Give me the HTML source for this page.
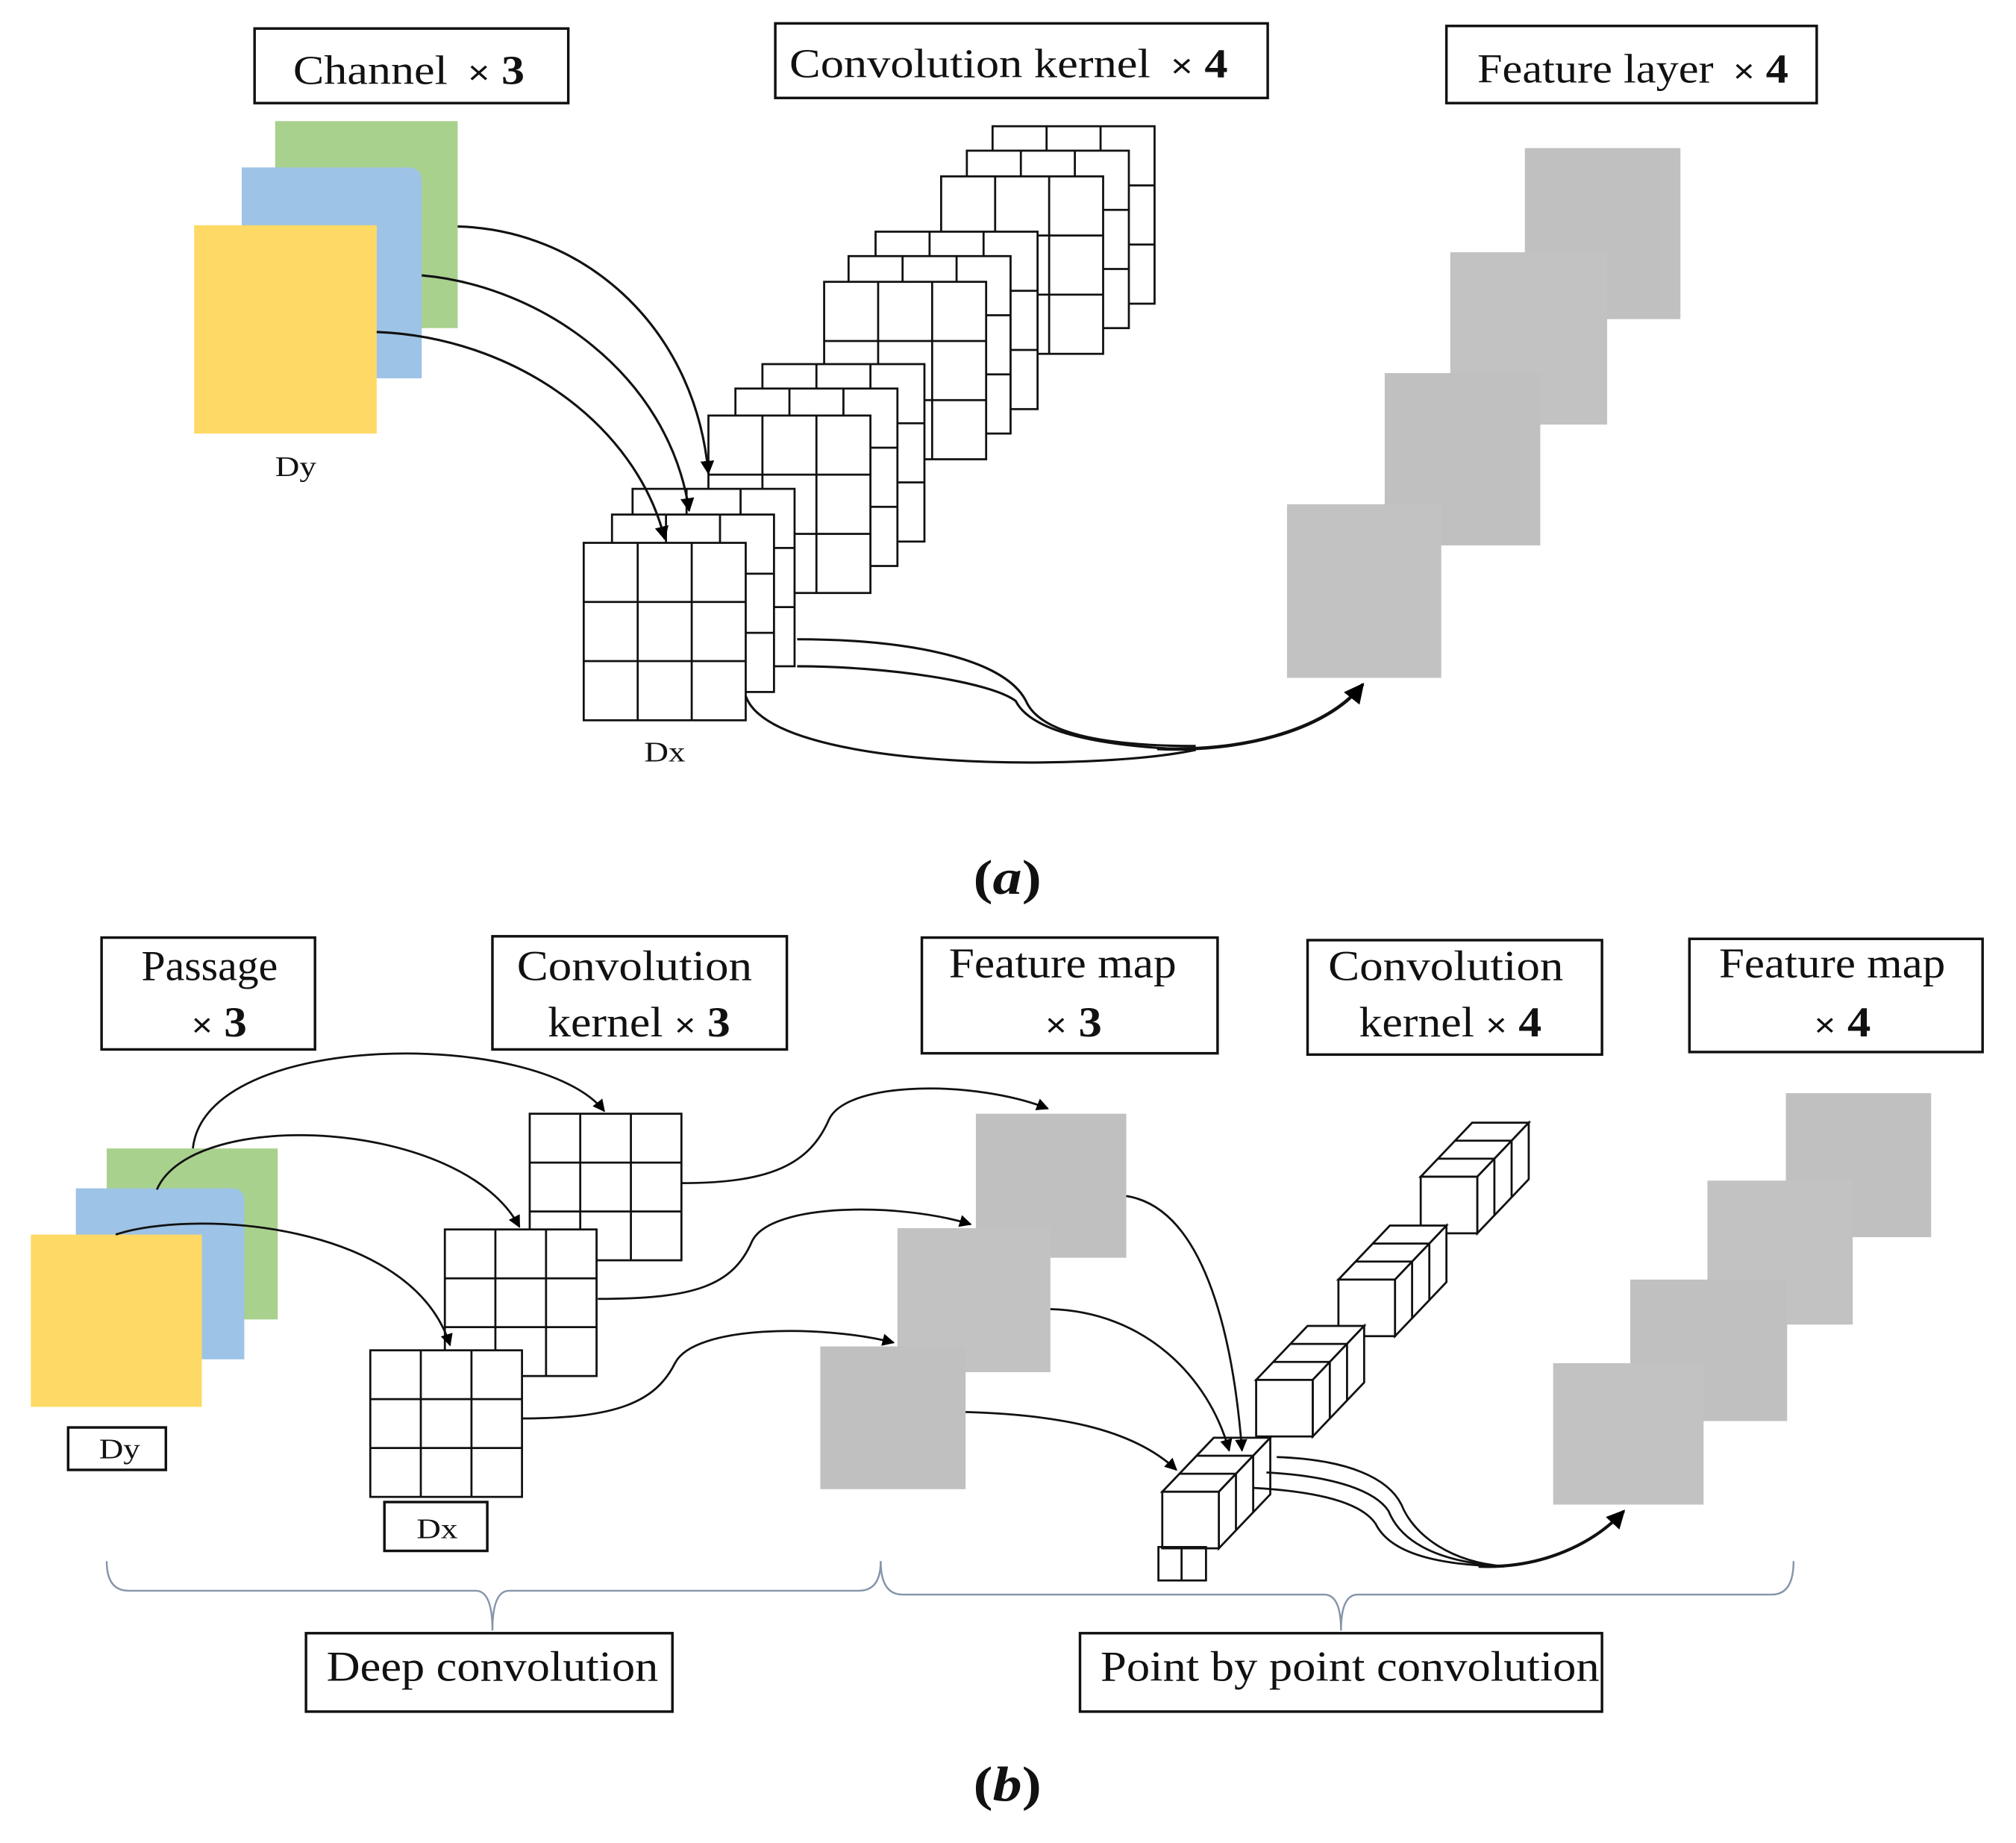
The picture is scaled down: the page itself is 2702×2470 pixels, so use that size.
<!DOCTYPE html>
<html><head><meta charset="utf-8"><style>
html,body{margin:0;padding:0;background:#fff;}
svg{display:block;}
text{font-family:"Liberation Serif",serif;fill:#111;}
</style></head><body>
<svg width="2702" height="2470" viewBox="0 0 1568 1433" xmlns="http://www.w3.org/2000/svg">
<defs>
<marker id="ah" viewBox="0 0 10 10" refX="9" refY="5" markerWidth="6" markerHeight="6" orient="auto-start-reverse"><path d="M0,0 L10,5 L0,10 z" fill="#000"/></marker>
<g id="ga"><rect x="0" y="0" width="126" height="138" fill="#fff" stroke="#111" stroke-width="1.6"/><path d="M42,0V138M84,0V138M0,46H126M0,92H126" stroke="#111" stroke-width="1.6"/></g>
<g id="gb"><rect x="0" y="0" width="118" height="114" fill="#fff" stroke="#111" stroke-width="1.6"/><path d="M39.3,0V114M78.7,0V114M0,38H118M0,76H118" stroke="#111" stroke-width="1.6"/></g>
<g id="cube" fill="#fff" stroke="#111" stroke-width="1.6">
<polygon points="0,0 44,0 84,-42 40,-42"/>
<polygon points="44,0 84,-42 84,2 44,44"/>
<rect x="0" y="0" width="44" height="44"/>
<path d="M13.3,-14H57.3M26.7,-28H70.7M57.3,-14V30M70.7,-28V16" fill="none"/>
</g>
</defs>
<rect width="1568" height="1433" fill="#fff"/>

<!-- (a) labels -->
<rect x="198" y="22" width="244" height="58" fill="none" stroke="#111" stroke-width="2"/>
<text x="228" y="65" font-size="32" textLength="180" lengthAdjust="spacingAndGlyphs">Channel <tspan font-family="Liberation Sans" font-size="26" dx="6">×</tspan><tspan font-weight="bold"> 3</tspan></text>
<rect x="603" y="18" width="383" height="58" fill="none" stroke="#111" stroke-width="2"/>
<text x="614" y="60" font-size="32" textLength="341" lengthAdjust="spacingAndGlyphs">Convolution kernel <tspan font-family="Liberation Sans" font-size="26" dx="6">×</tspan><tspan font-weight="bold"> 4</tspan></text>
<rect x="1125" y="20" width="288" height="60" fill="none" stroke="#111" stroke-width="2"/>
<text x="1149" y="64" font-size="32" textLength="242" lengthAdjust="spacingAndGlyphs">Feature layer <tspan font-family="Liberation Sans" font-size="26" dx="6">×</tspan><tspan font-weight="bold"> 4</tspan></text>

<!-- (a) channels -->
<rect x="214" y="94" width="142" height="161" fill="#a9d18e"/>
<path d="M188,130 H318 Q328,130 328,142 V294 H188 Z" fill="#9dc3e6"/>
<rect x="151" y="175" width="142" height="162" fill="#ffd966"/>
<text x="214" y="370" font-size="22" textLength="32" lengthAdjust="spacingAndGlyphs">Dy</text>

<!-- (a) kernels -->
<use href="#ga" x="772" y="98"/><use href="#ga" x="752" y="117"/><use href="#ga" x="732" y="137"/>
<use href="#ga" x="681" y="180"/><use href="#ga" x="660" y="199"/><use href="#ga" x="641" y="219"/>
<use href="#ga" x="593" y="283"/><use href="#ga" x="572" y="302"/><use href="#ga" x="551" y="323"/>
<use href="#ga" x="492" y="380"/><use href="#ga" x="476" y="400"/><use href="#ga" x="454" y="422"/>
<text x="501" y="592" font-size="22" textLength="32" lengthAdjust="spacingAndGlyphs">Dx</text>

<!-- (a) arrows -->
<g fill="none" stroke="#111" stroke-width="1.8">
<path d="M356,176 C450,178 540,250 551,368" marker-end="url(#ah)"/>
<path d="M328,214 C420,222 520,290 536,397" marker-end="url(#ah)"/>
<path d="M293,258 C400,262 495,330 517,419" marker-end="url(#ah)"/>
<path d="M620,497 C700,497 780,510 798,545 C808,568 850,580 930,580"/>
<path d="M620,518 C690,518 770,530 790,545 C800,565 840,580 930,583"/>
<path d="M580,541 C600,600 850,600 930,583"/>
<path d="M900,582 C960,585 1030,570 1060,532" stroke-width="2.6" marker-end="url(#ah)"/>
</g>

<!-- (a) feature layers -->
<rect x="1186" y="115" width="121" height="133" fill="#c0c0c0"/>
<rect x="1128" y="196" width="122" height="134" fill="#c2c2c2"/>
<rect x="1077" y="290" width="121" height="134" fill="#c0c0c0"/>
<rect x="1001" y="392" width="120" height="135" fill="#c2c2c2"/>

<text x="757" y="695" font-size="38" font-weight="bold" textLength="53" lengthAdjust="spacingAndGlyphs">(<tspan font-style="italic">a</tspan>)</text>

<!-- (b) labels -->
<g fill="none" stroke="#111" stroke-width="2">
<rect x="79" y="729" width="166" height="87"/>
<rect x="383" y="728" width="229" height="88"/>
<rect x="717" y="729" width="230" height="90"/>
<rect x="1017" y="731" width="229" height="89"/>
<rect x="1314" y="730" width="228" height="88"/>
<rect x="53" y="1110" width="76" height="33"/>
<rect x="299" y="1168" width="80" height="38"/>
<rect x="238" y="1270" width="285" height="61"/>
<rect x="840" y="1270" width="406" height="61"/>
</g>
<g font-size="33">
<text x="110" y="762" textLength="106" lengthAdjust="spacingAndGlyphs">Passage</text>
<text x="149" y="806" textLength="43" lengthAdjust="spacingAndGlyphs"><tspan font-family="Liberation Sans" font-size="26">×</tspan><tspan font-weight="bold"> 3</tspan></text>
<text x="402" y="762" textLength="183" lengthAdjust="spacingAndGlyphs">Convolution</text>
<text x="426" y="806" textLength="142" lengthAdjust="spacingAndGlyphs">kernel <tspan font-family="Liberation Sans" font-size="26">×</tspan><tspan font-weight="bold"> 3</tspan></text>
<text x="738" y="760" textLength="177" lengthAdjust="spacingAndGlyphs">Feature map</text>
<text x="813" y="806" textLength="44" lengthAdjust="spacingAndGlyphs"><tspan font-family="Liberation Sans" font-size="26">×</tspan><tspan font-weight="bold"> 3</tspan></text>
<text x="1033" y="762" textLength="183" lengthAdjust="spacingAndGlyphs">Convolution</text>
<text x="1057" y="806" textLength="142" lengthAdjust="spacingAndGlyphs">kernel <tspan font-family="Liberation Sans" font-size="26">×</tspan><tspan font-weight="bold"> 4</tspan></text>
<text x="1337" y="760" textLength="176" lengthAdjust="spacingAndGlyphs">Feature map</text>
<text x="1411" y="806" textLength="44" lengthAdjust="spacingAndGlyphs"><tspan font-family="Liberation Sans" font-size="26">×</tspan><tspan font-weight="bold"> 4</tspan></text>
<text x="254" y="1307" textLength="258" lengthAdjust="spacingAndGlyphs">Deep convolution</text>
<text x="856" y="1307" textLength="388" lengthAdjust="spacingAndGlyphs">Point by point convolution</text>
</g>
<text x="77" y="1134" font-size="22" textLength="32" lengthAdjust="spacingAndGlyphs">Dy</text>
<text x="324" y="1196" font-size="22" textLength="32" lengthAdjust="spacingAndGlyphs">Dx</text>

<!-- (b) channels -->
<rect x="83" y="893" width="133" height="133" fill="#a9d18e"/>
<path d="M59,924 H180 Q190,924 190,934 V1057 H59 Z" fill="#9dc3e6"/>
<rect x="24" y="960" width="133" height="134" fill="#ffd966"/>

<!-- (b) kernels -->
<use href="#gb" x="412" y="866"/>
<use href="#gb" x="346" y="956"/>
<use href="#gb" x="288" y="1050"/>

<!-- (b) feature maps 3 -->
<rect x="759" y="866" width="117" height="112" fill="#c0c0c0"/>
<rect x="698" y="955" width="119" height="112" fill="#c2c2c2"/>
<rect x="638" y="1047" width="113" height="111" fill="#c0c0c0"/>

<!-- (b) cubes -->
<use href="#cube" x="1105" y="915"/>
<use href="#cube" x="1041" y="995"/>
<use href="#cube" x="977" y="1073"/>
<use href="#cube" x="904" y="1160"/>
<rect x="901" y="1203" width="37" height="26" fill="none" stroke="#111" stroke-width="1.6"/>
<line x1="919" y1="1203" x2="919" y2="1229" stroke="#111" stroke-width="1.6"/>

<!-- (b) feature maps 4 -->
<rect x="1389" y="850" width="113" height="112" fill="#c0c0c0"/>
<rect x="1328" y="918" width="113" height="112" fill="#c2c2c2"/>
<rect x="1268" y="995" width="122" height="110" fill="#c0c0c0"/>
<rect x="1208" y="1060" width="117" height="110" fill="#c2c2c2"/>

<!-- (b) arrows -->
<g fill="none" stroke="#111" stroke-width="1.6">
<path d="M150,893 C160,800 420,800 470,864" marker-end="url(#ah)"/>
<path d="M122,925 C150,860 360,870 404,954" marker-end="url(#ah)"/>
<path d="M90,960 C150,940 320,950 350,1046" marker-end="url(#ah)"/>
<path d="M530,920 C600,920 630,905 645,870 C660,840 760,840 815,862" marker-end="url(#ah)"/>
<path d="M465,1010 C540,1010 570,1000 585,965 C600,935 700,935 755,952" marker-end="url(#ah)"/>
<path d="M406,1103 C480,1103 510,1090 525,1060 C540,1030 640,1030 695,1044" marker-end="url(#ah)"/>
<path d="M876,930 C940,940 960,1050 966,1128" marker-end="url(#ah)"/>
<path d="M817,1018 C890,1020 940,1070 956,1128" marker-end="url(#ah)"/>
<path d="M751,1098 C820,1100 880,1110 915,1143" marker-end="url(#ah)"/>
<path d="M993,1133 C1050,1135 1080,1150 1090,1170 C1100,1195 1130,1215 1170,1218"/>
<path d="M985,1145 C1040,1148 1070,1160 1080,1175 C1090,1200 1120,1215 1170,1218"/>
<path d="M975,1157 C1030,1160 1060,1170 1070,1185 C1080,1205 1110,1217 1170,1218"/>
<path d="M1150,1218 C1200,1220 1240,1200 1263,1175" stroke-width="2.4" marker-end="url(#ah)"/>
</g>

<!-- braces -->
<g fill="none" stroke="#8594aa" stroke-width="1.4">
<path d="M83,1214 Q83,1237 100,1237 L370,1237 Q383,1237 383,1268 Q383,1237 396,1237 L668,1237 Q685,1237 685,1214"/>
<path d="M685,1214 Q685,1240 702,1240 L1030,1240 Q1043,1240 1043,1268 Q1043,1240 1056,1240 L1378,1240 Q1395,1240 1395,1214"/>
</g>

<text x="757" y="1400" font-size="38" font-weight="bold" textLength="53" lengthAdjust="spacingAndGlyphs">(<tspan font-style="italic">b</tspan>)</text>
</svg>
</body></html>
